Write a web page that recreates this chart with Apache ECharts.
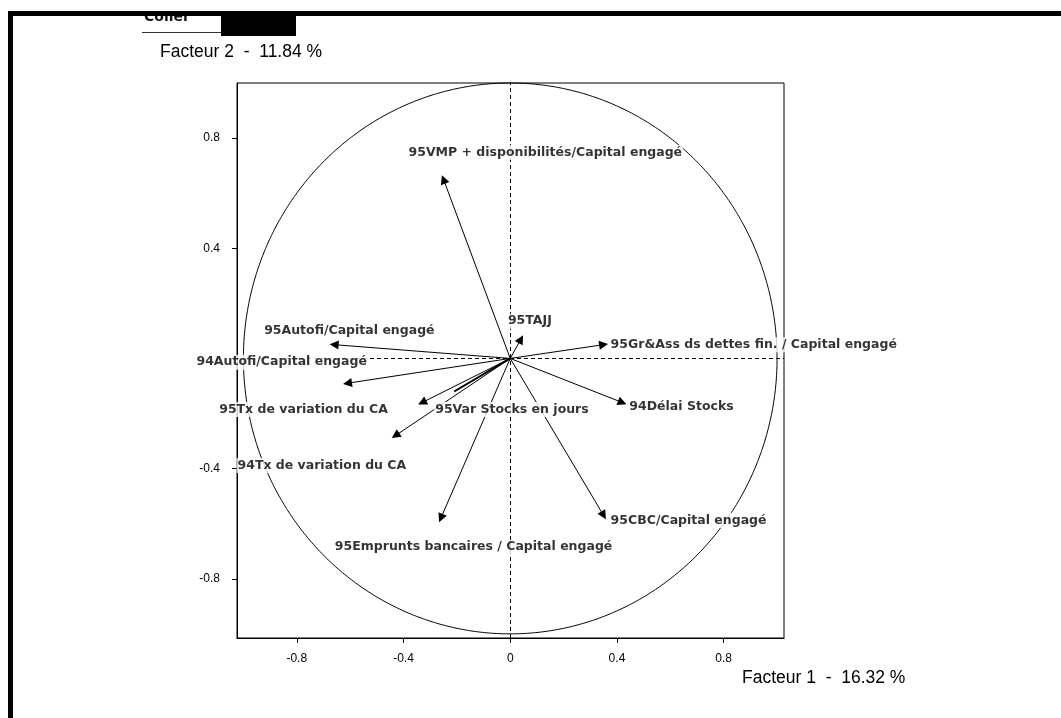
<!DOCTYPE html>
<html>
<head>
<meta charset="utf-8">
<script src="https://cdn.jsdelivr.net/npm/echarts@6/dist/echarts.min.js"></script>
<style>
html,body{margin:0;padding:0;background:#fff;}
#chart{width:1061px;height:718px;}
</style>
</head>
<body>
<div id="chart"></div>
<script>
// ---- data ----
const variables = [
  '95VMP + disponibilités/Capital engagé',
  '95TAJJ',
  '95Gr&Ass ds dettes fin. / Capital engagé',
  '94Délai Stocks',
  '95CBC/Capital engagé',
  '95Emprunts bancaires / Capital engagé',
  '94Tx de variation du CA',
  '95Tx de variation du CA',
  '94Autofi/Capital engagé',
  '95Autofi/Capital engagé',
  '95Var Stocks en jours'
];
const factor1 = [-0.25, 0.04, 0.35, 0.42, 0.35, -0.26, -0.43, -0.33, -0.61, -0.66, -0.21];
const factor2 = [0.65, 0.07, 0.05, -0.16, -0.57, -0.58, -0.28, -0.16, -0.09, 0.05, -0.12];
const xTickValues = [-0.8, -0.4, 0, 0.4, 0.8];
const yTickValues = [-0.8, -0.4, 0.4, 0.8];
const xAxisTitle = 'Facteur 1  -  16.32 %';
const yAxisTitle = 'Facteur 2  -  11.84 %';
const buttonCaption = 'Coller';

// ---- styling (label placement relative to each arrow tip, in px) ----
const labelOffsets = [
  [-36, -27], [-14, -18], [6, 0], [6, 4], [6, 5], [-107, 29],
  [-159, 30], [-204, 7], [-152, -21], [-71, -14], [-20, 18]
];
const noHeadIndex = 10; // the short, overlapping arrow drawn as a bold stroke
const X_EXT = [-1.024, 1.026];
const Y_EXT = [-1.015, 1.0];
const yTickMarks = [-0.8, -0.4, 0, 0.4, 0.8];

const chart = echarts.init(document.getElementById('chart'), null, {renderer: 'canvas'});

const tickFont = {fontFamily: 'Liberation Sans, Arial, sans-serif', fontSize: 12, color: '#000'};
const fmt = v => String(Math.round(v * 10) / 10);

const arrowData = [], plainData = [];
variables.forEach((n, i) => {
  const item = {coords: [[0, 0], [factor1[i], factor2[i]]]};
  if (i === noHeadIndex) plainData.push(item); else arrowData.push(item);
});

const option = {
  backgroundColor: '#fff',
  animation: false,
  grid: {
    left: 237, top: 83, width: 547, height: 555,
    show: true, borderColor: '#000', borderWidth: 1, backgroundColor: 'transparent'
  },
  xAxis: {
    type: 'value', min: X_EXT[0], max: X_EXT[1], position: 'bottom',
    axisLine: {show: true, onZero: false, lineStyle: {color: '#000', width: 1}},
    axisTick: {show: true, inside: false, length: 5, customValues: xTickValues, lineStyle: {color: '#000'}},
    axisLabel: Object.assign({show: true, margin: 15, customValues: xTickValues, formatter: fmt}, tickFont),
    splitLine: {show: false}
  },
  yAxis: {
    type: 'value', min: Y_EXT[0], max: Y_EXT[1], position: 'left',
    axisLine: {show: true, onZero: false, lineStyle: {color: '#000', width: 1}},
    axisTick: {show: true, inside: false, length: 5, customValues: yTickMarks, lineStyle: {color: '#000'}},
    axisLabel: Object.assign({show: true, margin: 17, customValues: yTickValues, formatter: fmt}, tickFont),
    splitLine: {show: false}
  },
  series: [
    {
      // correlation circle (unit radius) + dashed zero axes
      type: 'custom',
      coordinateSystem: 'cartesian2d',
      silent: true, z: 3,
      data: [[0, 0]],
      renderItem: function (params, api) {
        const pts = [];
        for (let a = 0; a <= 720; a++) {
          const t = a / 720 * Math.PI * 2;
          pts.push(api.coord([Math.cos(t), Math.sin(t)]));
        }
        return {
          type: 'polyline',
          shape: {points: pts},
          style: {stroke: '#000', lineWidth: 1, fill: null}
        };
      },
      markLine: {
        silent: true, symbol: 'none', animation: false,
        label: {show: false},
        lineStyle: {color: '#000', width: 1, type: [4, 3]},
        data: [{xAxis: 0}, {yAxis: 0}]
      }
    },
    {
      type: 'lines',
      coordinateSystem: 'cartesian2d',
      z: 5, silent: true,
      symbol: ['none', 'triangle'],
      symbolSize: [0, 9],
      lineStyle: {color: '#000', width: 1, opacity: 1, curveness: 0},
      data: arrowData
    },
    {
      type: 'lines',
      coordinateSystem: 'cartesian2d',
      z: 5, silent: true,
      symbol: ['none', 'none'],
      lineStyle: {color: '#000', width: 2, opacity: 1, curveness: 0},
      data: plainData
    },
    {
      type: 'scatter',
      z: 10, silent: true,
      symbol: 'rect',
      symbolSize: 0,
      itemStyle: {color: 'rgba(0,0,0,0)'},
      label: {
        show: true,
        align: 'left', verticalAlign: 'middle',
        formatter: p => p.name,
        fontFamily: 'DejaVu Sans', fontWeight: 'bold', fontSize: 12.5, color: '#000',
        backgroundColor: '#fff', padding: [1, 1]
      },
      labelLayout: {hideOverlap: false},
      data: variables.map((n, i) => ({
        name: n, value: [factor1[i], factor2[i]],
        label: {position: labelOffsets[i]}
      }))
    }
  ],
  graphic: [
    {type: 'text', left: 160, top: 43, z: 20,
     style: {text: yAxisTitle, font: '17.5px "Liberation Sans", Arial, sans-serif', fill: '#000'}},
    {type: 'text', left: 742, top: 669, z: 20,
     style: {text: xAxisTitle, font: '17.5px "Liberation Sans", Arial, sans-serif', fill: '#000'}},
    {type: 'text', left: 144, top: 10, z: 20,
     style: {text: buttonCaption, font: 'bold 14px "DejaVu Sans", sans-serif', fill: '#111'}},
    {type: 'line', z: 21, shape: {x1: 142, y1: 32.5, x2: 221, y2: 32.5}, style: {stroke: '#333', lineWidth: 1}},
    {type: 'rect', z: 22, shape: {x: 221, y: 16, width: 75, height: 20}, style: {fill: '#000'}},
    {type: 'rect', z: 22, shape: {x: 0, y: 0, width: 1061, height: 11}, style: {fill: '#fff'}},
    {type: 'rect', z: 23, shape: {x: 8, y: 11, width: 1053, height: 5}, style: {fill: '#000'}},
    {type: 'rect', z: 23, shape: {x: 8, y: 11, width: 5, height: 707}, style: {fill: '#000'}}
  ]
};
chart.setOption(option);
</script>
</body>
</html>
